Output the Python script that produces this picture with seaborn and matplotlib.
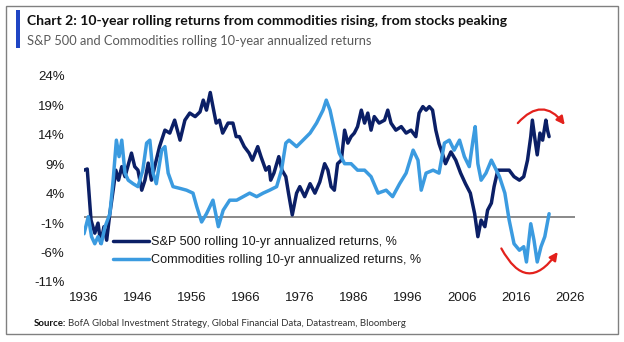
import numpy as np
import pandas as pd
import matplotlib
matplotlib.use("Agg")
import matplotlib.pyplot as plt
import matplotlib.patches as mpatches
import seaborn as sns

# ---------------- data ----------------
spx_years = [1936.0, 1936.6, 1937.3, 1938.0, 1938.6, 1939.1, 1939.7, 1940.2, 1940.8, 1941.4,
             1941.9, 1942.4, 1943.0, 1943.6, 1944.8, 1945.4, 1946.0, 1946.7, 1947.3, 1947.9,
             1948.5, 1949.1, 1950.0, 1951.0, 1951.9, 1952.8, 1953.8, 1954.7, 1955.6, 1956.6,
             1957.5, 1958.1, 1958.7, 1959.4, 1959.9, 1960.5, 1961.1, 1961.7, 1962.7, 1963.6,
             1964.2, 1964.8, 1965.7, 1966.6, 1967.2, 1968.2, 1968.8, 1969.7, 1970.3, 1970.6,
             1971.2, 1972.1, 1972.7, 1973.4, 1973.9, 1974.6, 1975.4, 1976.0, 1976.9, 1977.9,
             1978.8, 1979.7, 1980.6, 1981.2, 1981.8, 1982.4, 1983.0, 1983.7, 1984.3, 1984.9,
             1985.5, 1986.1, 1986.7, 1987.4, 1988.0, 1988.6, 1989.2, 1989.8, 1990.7, 1991.7,
             1992.3, 1992.9, 1993.8, 1994.8, 1995.7, 1996.6, 1997.5, 1998.1, 1998.8, 1999.4,
             2000.0, 2000.6, 2001.2, 2001.8, 2002.4, 2003.0, 2004.0, 2004.9, 2005.8, 2006.7,
             2007.6, 2008.4, 2009.0, 2009.6, 2010.3, 2010.8, 2011.5, 2012.0, 2012.7, 2013.6,
             2014.8, 2015.7, 2016.7, 2017.5, 2018.2, 2018.8, 2019.1, 2019.6, 2020.0, 2020.5,
             2021.0, 2021.6, 2021.9, 2022.2]
spx_values = [8.0, 8.2, -0.5, -2.7, -1.0, -4.4, -1.6, -3.9, 0.7, 4.6,
              8.0, 6.3, 8.6, 6.9, 10.9, 8.6, 8.0, 4.6, 6.3, 9.2,
              6.3, 8.6, 12.0, 14.8, 14.3, 16.5, 13.1, 16.5, 17.7, 17.1,
              17.9, 19.9, 18.2, 21.2, 18.8, 16.0, 16.5, 14.3, 16.0, 16.0,
              13.7, 13.7, 12.0, 10.9, 9.7, 12.0, 10.3, 8.0, 8.6, 6.3,
              7.5, 10.3, 8.0, 6.9, 4.1, 0.4, 4.1, 5.2, 3.5, 5.7,
              4.1, 6.0, 9.1, 8.0, 5.2, 4.6, 9.1, 9.7, 14.8, 12.6,
              13.7, 14.3, 15.4, 18.2, 16.0, 17.7, 14.8, 17.1, 16.0, 16.5,
              18.2, 16.0, 14.8, 15.4, 14.3, 14.8, 13.7, 17.7, 18.8, 18.2,
              18.8, 18.2, 14.8, 12.5, 10.9, 9.1, 11.1, 9.7, 7.5, 5.7,
              4.1, 0.6, -3.3, -0.5, -1.6, 1.2, 2.4, 5.2, 8.0, 8.0,
              8.0, 6.9, 6.3, 6.9, 9.7, 13.7, 16.5, 13.1, 10.6, 14.3,
              13.1, 16.5, 14.8, 13.7]

cmd_years = [1936.0, 1936.8, 1937.4, 1938.0, 1938.6, 1939.2, 1939.9, 1940.8, 1941.4, 1942.0,
             1942.5, 1943.0, 1943.6, 1944.2, 1945.1, 1946.0, 1946.9, 1947.6, 1948.2, 1948.8,
             1949.4, 1950.4, 1951.0, 1951.6, 1952.5, 1953.8, 1955.0, 1956.2, 1956.9, 1957.8,
             1958.7, 1959.9, 1960.9, 1961.8, 1963.0, 1964.3, 1965.5, 1966.7, 1968.0, 1969.2,
             1970.4, 1971.7, 1972.6, 1973.4, 1974.0, 1975.4, 1976.6, 1977.9, 1979.1, 1980.3,
             1980.9, 1981.6, 1982.4, 1983.3, 1984.3, 1985.5, 1986.7, 1988.0, 1989.2, 1990.5,
             1992.0, 1993.2, 1994.5, 1995.7, 1997.0, 1997.9, 1998.5, 1999.4, 2000.7, 2001.8,
             2002.8, 2003.7, 2004.6, 2005.6, 2006.5, 2007.4, 2008.1, 2008.5, 2009.0, 2009.6,
             2010.5, 2011.5, 2012.1, 2013.0, 2014.0, 2014.8, 2015.7, 2016.7, 2017.5, 2018.0,
             2018.8, 2019.4, 2020.0, 2020.7, 2021.4, 2022.2]
cmd_values = [-2.8, 0.1, -3.3, -4.5, -3.3, -4.5, -1.6, 0.6, 6.3, 13.1,
              10.3, 13.1, 7.5, 6.3, 5.7, 5.2, 8.0, 12.6, 13.1, 7.5,
              5.7, 11.4, 12.0, 7.5, 5.2, 4.9, 4.6, 4.1, 1.8, -0.8,
              0.6, 2.9, -1.6, 1.2, 2.9, 2.9, 3.5, 4.1, 3.5, 4.1,
              4.6, 5.2, 8.0, 12.6, 13.1, 12.0, 13.1, 14.3, 16.0, 18.2,
              19.9, 18.2, 14.8, 10.9, 9.1, 9.1, 8.0, 8.0, 6.9, 4.1,
              4.6, 3.5, 5.7, 7.5, 11.4, 9.7, 4.6, 7.5, 8.0, 7.5,
              12.6, 13.1, 11.4, 13.1, 10.3, 8.6, 13.1, 15.4, 9.1, 6.3,
              7.5, 9.7, 8.6, 6.9, 4.1, -0.5, -4.5, -5.6, -5.0, -7.6,
              -1.1, -3.9, -7.6, -5.0, -3.3, 0.6]

series_names = ["S&P 500 rolling 10-yr annualized returns, %",
                "Commodities rolling 10-yr annualized returns, %"]
y_ticks = [-11, -6, -1, 4, 9, 14, 19, 24]
x_ticks = [1936, 1946, 1956, 1966, 1976, 1986, 1996, 2006, 2016, 2026]

title = "Chart 2: 10-year rolling returns from commodities rising, from stocks peaking"
subtitle = "S&P 500 and Commodities rolling 10-year annualized returns"

# ---------------- build figure ----------------
sns.set_theme(style="white")
plt.rcParams["font.family"] = ["Liberation Sans", "DejaVu Sans"]

df = pd.concat([
    pd.DataFrame({"year": spx_years, "value": spx_values, "series": series_names[0]}),
    pd.DataFrame({"year": cmd_years, "value": cmd_values, "series": series_names[1]}),
], ignore_index=True)

W, H = 624, 342
fig = plt.figure(figsize=(W / 100, H / 100), dpi=100)
fig.patch.set_facecolor("white")

# axes placement in pixels
ax_left, ax_right, ax_top, ax_bottom = 84, 575, 76, 282
ax = fig.add_axes([ax_left / W, 1 - ax_bottom / H, (ax_right - ax_left) / W, (ax_bottom - ax_top) / H])

palette = {series_names[0]: "#0b1f66", series_names[1]: "#3b9be0"}
ax.axhline(0, color="#808080", lw=1.3, zorder=1)
sns.lineplot(data=df, x="year", y="value", hue="series", palette=palette,
             estimator=None, linewidth=2.5, ax=ax, zorder=2)

ax.set_xlim(1936, 2027)
ax.set_ylim(-11, 24)
ax.set_xticks(x_ticks)
ax.set_xticklabels([str(t) for t in x_ticks])
ax.set_yticks(y_ticks)
ax.set_yticklabels([f"{t}%" for t in y_ticks])
ax.tick_params(axis="both", length=0, labelsize=9.5, colors="#1a1a1a")
ax.tick_params(axis="y", pad=14)
ax.tick_params(axis="x", pad=7)
ax.set_xlabel("")
ax.set_ylabel("")
for s in ax.spines.values():
    s.set_visible(False)

leg = ax.legend(loc="upper left", bbox_to_anchor=(113 / W, 1 - 236 / H),
                bbox_transform=fig.transFigure, frameon=False, fontsize=9.1,
                handlelength=2.85, handletextpad=0.15, borderpad=0, borderaxespad=0,
                labelspacing=0.48)
for line in leg.get_lines():
    line.set_linewidth(2.5)
for t in leg.get_texts():
    t.set_color("#1a1a1a")

# red curved arrows (annotations)
ax.annotate("", xy=(2025.1, 15.7), xytext=(2016.4, 16.0),
            arrowprops=dict(arrowstyle="-|>", color="#e3211c", lw=1.6,
                            connectionstyle="arc3,rad=-0.6", mutation_scale=12,
                            shrinkA=0, shrinkB=0))
ax.annotate("", xy=(2023.8, -5.9), xytext=(2013.35, -5.3),
            arrowprops=dict(arrowstyle="-|>", color="#e3211c", lw=1.6,
                            connectionstyle="arc3,rad=0.8", mutation_scale=12,
                            shrinkA=0, shrinkB=0))

# frame, header bar and texts
fig.add_artist(mpatches.Rectangle((6 / W, 1 - 334 / H), 612 / W, 328 / H,
                                  transform=fig.transFigure, fill=False,
                                  edgecolor="#808080", lw=1.0))
fig.add_artist(mpatches.Rectangle((16 / W, 1 - 48 / H), 4 / W, 38 / H,
                                  transform=fig.transFigure, facecolor="#1f45c4",
                                  edgecolor="none"))
fig.text(27 / W, 1 - 21 / H, title, fontsize=10.1, fontweight="bold",
         family=["Lato", "DejaVu Sans"], color="#111111", va="center", ha="left")
fig.text(27 / W, 1 - 41 / H, subtitle, fontsize=9.3,
         family=["Lato", "DejaVu Sans"], color="#595959", va="center", ha="left")
src = fig.text(34 / W, 1 - 323 / H, "Source:", fontsize=6.9, fontweight="bold",
               family=["Lato", "DejaVu Sans"], color="#111111", va="center", ha="left")
fig.canvas.draw()
bb = src.get_window_extent()
fig.text((bb.x1 + 2) / W, 1 - 323 / H,
         "BofA Global Investment Strategy, Global Financial Data, Datastream, Bloomberg",
         fontsize=6.9, family=["Lato", "DejaVu Sans"], color="#333333",
         va="center", ha="left")

fig.savefig("out.png", dpi=100, facecolor="white")
